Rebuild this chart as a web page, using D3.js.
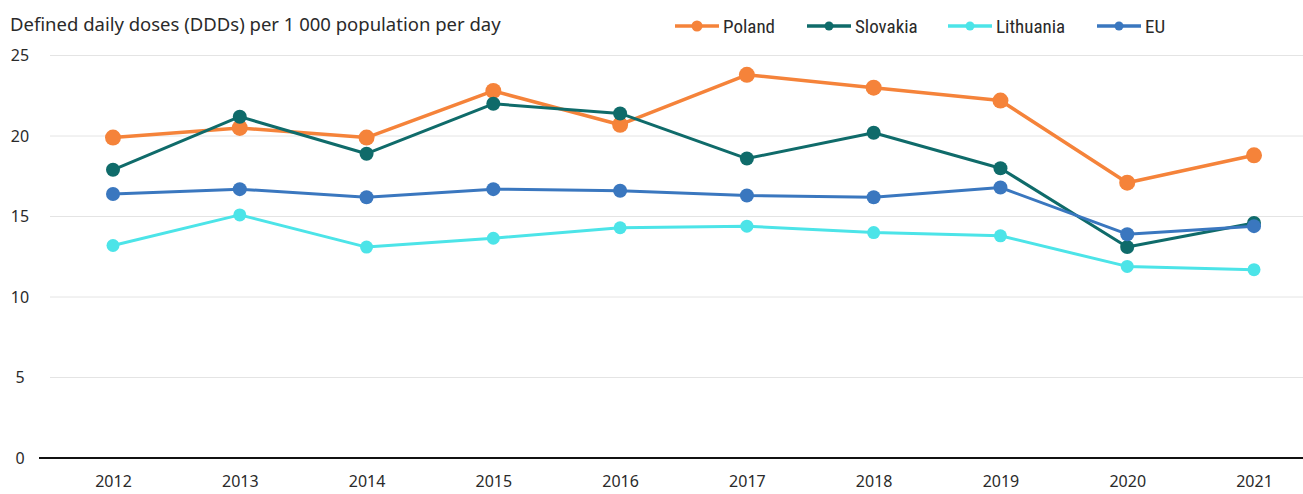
<!DOCTYPE html>
<html>
<head>
<meta charset="utf-8">
<script src="https://cdn.jsdelivr.net/npm/d3@7"></script>
<style>
  body { margin: 0; background: #fff; }
  svg text { font-family: "Noto Sans", "Open Sans", sans-serif; fill: #2a2a2a; }
  .legend text { font-family: "Liberation Sans Narrow", "Roboto Condensed", "DejaVu Sans Condensed", sans-serif; }
</style>
</head>
<body>
<div id="chart"></div>
<script>
// data
var years = [2012, 2013, 2014, 2015, 2016, 2017, 2018, 2019, 2020, 2021];
var poland    = [19.9, 20.5, 19.9, 22.8, 20.7, 23.8, 23.0, 22.2, 17.1, 18.8];
var slovakia  = [17.9, 21.2, 18.9, 22.0, 21.4, 18.6, 20.2, 18.0, 13.1, 14.6];
var lithuania = [13.2, 15.1, 13.1, 13.65, 14.3, 14.4, 14.0, 13.8, 11.9, 11.7];
var eu        = [16.4, 16.7, 16.2, 16.7, 16.6, 16.3, 16.2, 16.8, 13.9, 14.4];
var yTicks = [0, 5, 10, 15, 20, 25];

var w = 1303,
    h = 494;

var series = [
    { name: "Poland", values: poland, color: "#f5833a", r: 8, width: 3.5, lr: 5.5 },
    { name: "Slovakia", values: slovakia, color: "#0f6b6a", r: 7, width: 3, lr: 4.5 },
    { name: "Lithuania", values: lithuania, color: "#4ce4e8", r: 6.5, width: 3, lr: 4.5 },
    { name: "EU", values: eu, color: "#3a77bf", r: 7, width: 3, lr: 4.5 }
];

var svg = d3.select("#chart").append("svg")
    .attr("width", w)
    .attr("height", h);

var x = d3.scalePoint()
    .domain(years)
    .range([113, 1254]);

var y = d3.scaleLinear()
    .domain([0, 25])
    .range([458, 55.5]);

// gridlines
svg.append("g")
    .selectAll("line")
    .data(yTicks.filter(function(d) { return d > 0; }))
    .enter().append("line")
    .attr("x1", 50)
    .attr("x2", w)
    .attr("y1", function(d) { return y(d); })
    .attr("y2", function(d) { return y(d); })
    .attr("stroke", "#e4e4e4")
    .attr("stroke-width", 1);

// baseline
svg.append("line")
    .attr("x1", 39)
    .attr("x2", w)
    .attr("y1", y(0))
    .attr("y2", y(0))
    .attr("stroke", "#111")
    .attr("stroke-width", 1.8);

// y labels
svg.append("g")
    .selectAll("text")
    .data(yTicks)
    .enter().append("text")
    .attr("x", 20)
    .attr("y", function(d) { return y(d); })
    .attr("dy", "0.35em")
    .attr("text-anchor", "middle")
    .style("font-size", "16px")
    .text(function(d) { return d; });

// x labels
var xAxis = d3.axisBottom(x).tickSize(0).tickPadding(0);
var gx = svg.append("g")
    .attr("transform", "translate(0,476)")
    .call(xAxis);
gx.select(".domain").remove();
gx.selectAll("text")
    .attr("dy", "0.71em")
    .style("font-size", "16px")
    .style("font-family", "'Noto Sans', sans-serif")
    .attr("fill", "#2a2a2a");

// title
svg.append("text")
    .attr("x", 10)
    .attr("y", 31)
    .style("font-size", "18.5px")
    .text("Defined daily doses (DDDs) per 1 000 population per day");

var line = d3.line()
    .x(function(d, i) { return x(years[i]); })
    .y(function(d) { return y(d); });

series.forEach(function(s) {
    var g = svg.append("g");
    g.append("path")
        .datum(s.values)
        .attr("d", line)
        .attr("fill", "none")
        .attr("stroke", s.color)
        .attr("stroke-width", s.width)
        .attr("stroke-linejoin", "round");
    g.selectAll("circle")
        .data(s.values)
        .enter().append("circle")
        .attr("cx", function(d, i) { return x(years[i]); })
        .attr("cy", function(d) { return y(d); })
        .attr("r", s.r)
        .attr("fill", s.color);
});

// legend
var legendX = [675, 807, 948, 1097];
var legend = svg.append("g").attr("class", "legend");
series.forEach(function(s, i) {
    var lg = legend.append("g")
        .attr("transform", "translate(" + legendX[i] + ",26)");
    lg.append("line")
        .attr("x1", 0)
        .attr("x2", 44)
        .attr("stroke", s.color)
        .attr("stroke-width", 3.5);
    lg.append("circle")
        .attr("cx", 22)
        .attr("r", s.lr)
        .attr("fill", s.color);
    lg.append("text")
        .attr("x", 48)
        .attr("dy", "0.35em")
        .style("font-size", "19px")
        .text(s.name);
});
</script>
</body>
</html>
